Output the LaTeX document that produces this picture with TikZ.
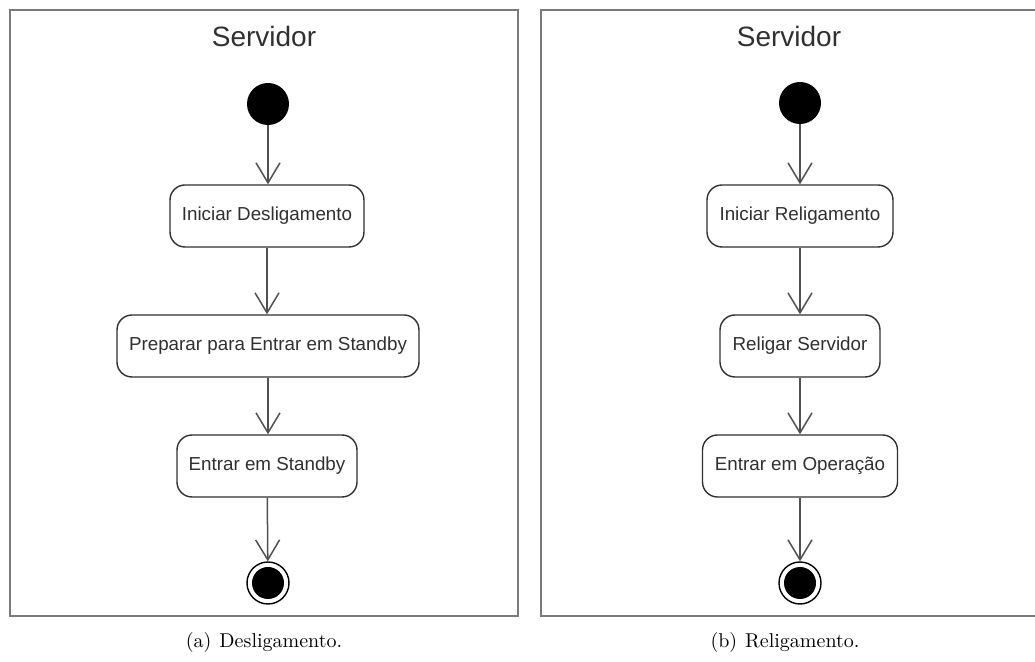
\documentclass[tikz,border=0pt]{standalone}
\usepackage{fontspec}
\newfontfamily\diagfont{Liberation Sans}
\usetikzlibrary{arrows.meta}
\definecolor{framegray}{HTML}{7A7A7A}
\definecolor{inkgray}{HTML}{303030}
\definecolor{edgegray}{HTML}{505050}
\begin{document}
\begin{tikzpicture}[x=0.5pt,y=-0.5pt,
  panel/.style={draw=framegray, line width=1.3pt},
  lanetitle/.style={font=\diagfont\fontsize{14}{16}\selectfont, text=inkgray},
  action/.style={draw=inkgray, line width=0.7pt, rounded corners=7.5pt, fill=white,
    font=\diagfont\fontsize{9.4}{11}\selectfont, text=inkgray,
    minimum height=31pt, inner sep=0pt},
  startdot/.style={circle, fill=black, minimum size=21pt, inner sep=0pt},
  enddot/.style={circle, draw=black, line width=0.7pt, fill=white, minimum size=21pt, inner sep=0pt,
    path picture={\fill[black] (path picture bounding box.center) circle (8pt);}},
  flow/.style={draw=edgegray, line width=0.75pt,
    -{Straight Barb[length=10pt, width=12pt, line width=0.75pt]}},
  caption/.style={font=\fontsize{10}{12}\selectfont}]
\useasboundingbox (0,0) rectangle (1035,662);

% swimlane frames
\draw[panel] (10,10) rectangle (518,616);
\draw[panel] (1040,10) -- (541,10) -- (541,616) -- (1040,616);

% (a) shutdown
\node[lanetitle] (ta) at (264,36) {Servidor};
\node[startdot] (sa) at (268,104) {};
\node[action, minimum width=97pt] (a1) at (267,216) {Iniciar Desligamento};
\node[action, minimum width=151pt] (a2) at (268,346) {Preparar para Entrar em Standby};
\node[action, minimum width=90pt] (a3) at (267,466) {Entrar em Standby};
\node[enddot] (ea) at (268,583) {};
\draw[flow] (sa) -- (sa |- a1.north);
\draw[flow] (a1) -- (a1 |- a2.north);
\draw[flow] (a2) -- (a2 |- a3.north);
\draw[flow] (a3) -- (ea);

% (b) restart
\node[lanetitle] (tb) at (789,36) {Servidor};
\node[startdot] (sb) at (800,103) {};
\node[action, minimum width=93pt] (b1) at (800,216) {Iniciar Religamento};
\node[action, minimum width=80pt] (b2) at (800,346) {Religar Servidor};
\node[action, minimum width=97.5pt] (b3) at (800,466) {Entrar em Operação};
\node[enddot] (eb) at (800,583) {};
\draw[flow] (sb) -- (b1);
\draw[flow] (b1) -- (b2);
\draw[flow] (b2) -- (b3);
\draw[flow] (b3) -- (eb);

% captions
\node[caption] (ca) at (264,643) {(a)\hspace{0.4em}Desligamento.};
\node[caption] (cb) at (785,643) {(b)\hspace{0.4em}Religamento.};
\end{tikzpicture}
\end{document}
